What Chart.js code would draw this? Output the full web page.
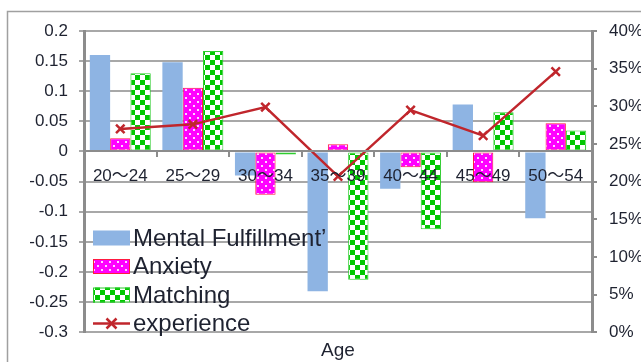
<!DOCTYPE html>
<html>
<head>
<meta charset="utf-8">
<script src="https://cdn.jsdelivr.net/npm/chart.js@4.4.1/dist/chart.umd.min.js"></script>
<style>
  html, body { margin: 0; padding: 0; background: #fff; }
  #wrap { width: 641px; height: 362px; position: relative; }
</style>
</head>
<body>
<div id="wrap"><canvas id="c" width="641" height="362"></canvas></div>
<script>
// Age bands and scores
const ageGroups = ['20～24', '25～29', '30～34', '35～39', '40～44', '45～49', '50～54'];
const mentalFulfillment = [0.160, 0.148, -0.040, -0.232, -0.062, 0.078, -0.111];
const anxiety = [0.022, 0.106, -0.072, 0.012, -0.026, -0.051, 0.047];
const matching = [0.130, 0.167, -0.005, -0.213, -0.129, 0.065, 0.035];
// Share with experience (right axis, fraction)
const experience = [0.270, 0.276, 0.299, 0.207, 0.295, 0.261, 0.346];

const seriesNames = ['Mental Fulfillment’', 'Anxiety', 'Matching', 'experience'];

const FONT = "'Liberation Sans', 'Noto Sans CJK JP', Arial, sans-serif";
const TEXT = '#1e2230';
const AXIS = '#8c8c8c';
const GRID = '#a8a8a8';

// Fill patterns
function dotPattern() {
  const t = document.createElement('canvas');
  t.width = 8; t.height = 8;
  const g = t.getContext('2d');
  g.fillStyle = '#ff00ff';
  g.fillRect(0, 0, 8, 8);
  g.fillStyle = '#ffd6ff';
  g.fillRect(1, 1, 2, 2);
  g.fillRect(5, 5, 2, 2);
  return g.createPattern(t, 'repeat');
}
function checkerPattern() {
  const t = document.createElement('canvas');
  t.width = 10; t.height = 10;
  const g = t.getContext('2d');
  g.fillStyle = '#ffffff';
  g.fillRect(0, 0, 10, 10);
  g.fillStyle = '#00c800';
  g.fillRect(0, 0, 5, 5);
  g.fillRect(5, 5, 5, 5);
  return g.createPattern(t, 'repeat');
}
const dots = dotPattern();
const checks = checkerPattern();

function fmtNum(v) {
  const r = Math.round(v * 100) / 100;
  return String(r === 0 ? 0 : r);
}

// Outer frame of the chart
const framePlugin = {
  id: 'frame',
  beforeDraw(chart) {
    const ctx = chart.ctx;
    ctx.save();
    ctx.fillStyle = '#fff';
    ctx.fillRect(0, 0, chart.width, chart.height);
    ctx.strokeStyle = '#a0a0a0';
    ctx.lineWidth = 1.5;
    ctx.strokeRect(7.5, 11.5, 700, 400);
    ctx.restore();
  }
};

// Legend laid over the lower-left part of the plot
const overlayLegend = {
  id: 'overlayLegend',
  afterDraw(chart) {
    const ctx = chart.ctx;
    const x0 = 93, bw = 37, bh = 15, y0 = 238, gap = 28.5;
    ctx.save();
    ctx.font = '24px ' + FONT;
    ctx.textBaseline = 'middle';
    chart.data.datasets.forEach((ds, i) => {
      const cy = y0 + i * gap;
      if (ds.type === 'line') {
        ctx.strokeStyle = ds.borderColor;
        ctx.lineWidth = 2.5;
        ctx.beginPath();
        ctx.moveTo(x0, cy); ctx.lineTo(x0 + bw, cy);
        ctx.stroke();
        const cx = x0 + bw / 2, r = 5;
        ctx.beginPath();
        ctx.moveTo(cx - r, cy - r); ctx.lineTo(cx + r, cy + r);
        ctx.moveTo(cx + r, cy - r); ctx.lineTo(cx - r, cy + r);
        ctx.stroke();
      } else {
        ctx.fillStyle = ds.backgroundColor;
        ctx.fillRect(x0, cy - bh / 2, bw, bh);
        if (ds.borderWidth) {
          ctx.strokeStyle = ds.borderColor;
          ctx.lineWidth = 1;
          ctx.strokeRect(x0 + 0.5, cy - bh / 2 + 0.5, bw - 1, bh - 1);
        }
      }
      ctx.fillStyle = TEXT;
      ctx.fillText(ds.label, x0 + bw + 3, cy + 1);
    });
    ctx.restore();
  }
};

new Chart(document.getElementById('c'), {
  type: 'bar',
  data: {
    labels: ageGroups,
    datasets: [
      { label: seriesNames[0], data: mentalFulfillment, yAxisID: 'y', order: 1,
        backgroundColor: '#8eb4e3', borderWidth: 0 },
      { label: seriesNames[1], data: anxiety, yAxisID: 'y', order: 1,
        backgroundColor: dots, borderColor: '#ff1a40', borderWidth: 1, borderSkipped: false },
      { label: seriesNames[2], data: matching, yAxisID: 'y', order: 1,
        backgroundColor: checks, borderColor: '#2ecc2e', borderWidth: 1, borderSkipped: false },
      { type: 'line', label: seriesNames[3], data: experience, yAxisID: 'y1', order: 0,
        borderColor: '#c0262c', backgroundColor: '#c0262c', borderWidth: 2.5,
        pointStyle: 'crossRot', pointRadius: 6, pointBorderWidth: 2.5, tension: 0, fill: false }
    ]
  },
  options: {
    responsive: false,
    animation: false,
    devicePixelRatio: 1,
    layout: { padding: { top: 31, left: 0, right: 0, bottom: 0 } },
    datasets: { bar: { categoryPercentage: 0.84, barPercentage: 1 } },
    plugins: {
      legend: { display: false },
      tooltip: { enabled: false },
      title: {
        display: true, position: 'bottom', text: 'Age', fullSize: false,
        color: TEXT, font: { family: FONT, size: 19, weight: 'normal' },
        padding: { top: 7, bottom: 0 }
      }
    },
    scales: {
      x: {
        type: 'category',
        position: { y: 0 },
        offset: true,
        grid: { offset: true, drawOnChartArea: false, drawTicks: true, tickLength: 5, color: AXIS, lineWidth: 2 },
        border: { display: true, color: AXIS, width: 2, z: 1 },
        ticks: { z: 1, color: TEXT, font: { family: FONT, size: 17 }, padding: 10, maxRotation: 0, autoSkip: false }
      },
      y: {
        position: 'left',
        min: -0.3, max: 0.2,
        ticks: { stepSize: 0.05, color: TEXT, font: { family: FONT, size: 17 }, padding: 11, callback: v => fmtNum(v) },
        grid: { color: GRID, lineWidth: 2, tickLength: 5, drawTicks: true },
        border: { display: true, color: AXIS, width: 3 },
        afterFit(s) { s.width = 84; }
      },
      y1: {
        position: 'right',
        min: 0, max: 0.4,
        ticks: { stepSize: 0.05, color: TEXT, font: { family: FONT, size: 17 }, padding: 12, callback: v => Math.round(v * 100) + '%' },
        grid: { drawOnChartArea: false, drawTicks: true, tickLength: 5, color: AXIS, lineWidth: 2 },
        border: { display: true, color: AXIS, width: 3 },
        afterFit(s) { s.width = 49; }
      }
    }
  },
  plugins: [framePlugin, overlayLegend]
});
</script>
</body>
</html>
